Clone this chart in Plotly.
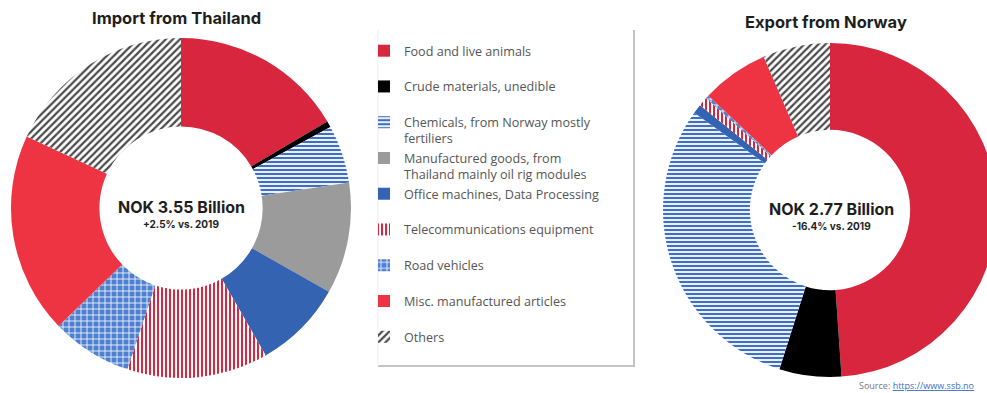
import plotly.graph_objects as go

# Trade categories (SITC groups), listed clockwise from 12 o'clock
categories = [
    "Food and live animals<br>\u00a0",
    "Crude materials, unedible<br>\u00a0",
    "Chemicals, from Norway mostly<br>fertiliers",
    "Manufactured goods, from<br>Thailand mainly oil rig modules",
    "Office machines, Data Processing<br>\u00a0",
    "Telecommunications equipment<br>\u00a0",
    "Road vehicles<br>\u00a0",
    "Misc. manufactured articles<br>\u00a0",
    "Others<br>\u00a0",
]

# Share of total trade value (%)
import_thailand = [16.5, 0.6, 5.5, 10.6, 8.5, 13.4, 7.7, 19.1, 18.1]
export_norway = [48.9, 6.0, 30.0, 0.0, 0.9, 0.9, 0.3, 6.5, 6.5]

totals = ["NOK 3.55 Billion", "NOK 2.77 Billion"]
changes = ["+2.5% vs. 2019", "-16.4% vs. 2019"]
titles = ["Import from Thailand", "Export from Norway"]

# Slice styling: base colour, pattern shape, pattern colours
fill_colors = ["#D7263D", "#000000", "#FFFFFF", "#9B9B9B", "#3463B2",
               "#FFFFFF", "#4F80D0", "#EE3342", "#FFFFFF"]
pattern_shapes = ["", "", "-", "", "", "|", "+", "", "/"]
pattern_fg = ["#D7263D", "#000000", "#3D6FC6", "#9B9B9B", "#3463B2",
              "#D7263D", "#FFFFFF", "#EE3342", "#4A4A4A"]
pattern_bg = fill_colors
pattern_size = [6, 6, 4, 6, 6, 4, 6, 6, 5]
pattern_solid = [0.3, 0.3, 0.55, 0.3, 0.3, 0.5, 0.25, 0.3, 0.45]

W, H = 1000, 393


def px_x(x):
    return x / W


def px_y(y):
    return 1 - y / H


def marker():
    return dict(
        colors=fill_colors,
        line=dict(width=0),
        pattern=dict(shape=pattern_shapes, fgcolor=pattern_fg,
                     bgcolor=pattern_bg, size=pattern_size,
                     solidity=pattern_solid, fillmode="replace"),
    )


fig = go.Figure()
fig.add_trace(go.Pie(
    labels=categories, values=import_thailand, hole=0.48,
    sort=False, direction="clockwise", rotation=0,
    textinfo="none", marker=marker(),
    domain=dict(x=[px_x(11), px_x(351)], y=[px_y(378), px_y(38)]),
))
fig.add_trace(go.Pie(
    labels=categories, values=export_norway, hole=0.48,
    sort=False, direction="clockwise", rotation=0,
    textinfo="none", marker=marker(), showlegend=False,
    domain=dict(x=[px_x(663), px_x(997)], y=[px_y(377), px_y(43)]),
))

title_font = dict(family="Inter", size=16.5, color="#1E1E1E")
ann = []
for cx, ty, t in [(176, 18, titles[0]), (826, 22, titles[1])]:
    ann.append(dict(x=px_x(cx), y=px_y(ty), text=f"<b>{t}</b>",
                    xanchor="center", yanchor="middle",
                    showarrow=False, xref="paper", yref="paper",
                    font=title_font))
for cx, cy, tot, chg in [(181, 207, totals[0], changes[0]),
                         (831, 209, totals[1], changes[1])]:
    ann.append(dict(x=px_x(cx), y=px_y(cy), text=f"<b>{tot}</b>",
                    xanchor="center", yanchor="middle",
                    showarrow=False, xref="paper", yref="paper",
                    font=dict(family="Inter", size=16, color="#1E1E1E")))
    ann.append(dict(x=px_x(cx), y=px_y(cy + 17), text=f"<b>{chg}</b>",
                    xanchor="center", yanchor="middle",
                    showarrow=False, xref="paper", yref="paper",
                    font=dict(family="Inter", size=10, color="#1E1E1E")))
ann.append(dict(
    x=px_x(976), y=px_y(385), xanchor="right", yanchor="middle",
    text="Source: <span style='color:#3A6FC6;text-decoration:underline'>"
         "https://www.ssb.no</span>",
    showarrow=False, xref="paper", yref="paper",
    font=dict(family="Open Sans", size=9, color="#777777")))

# Drop shadow on the legend panel
shapes = [
    dict(type="line", xref="paper", yref="paper",
         x0=px_x(634), x1=px_x(634), y0=px_y(30), y1=px_y(366),
         line=dict(color="#C4C4C4", width=2)),
    dict(type="line", xref="paper", yref="paper",
         x0=px_x(378), x1=px_x(635), y0=px_y(366), y1=px_y(366),
         line=dict(color="#C4C4C4", width=2)),
    dict(type="line", xref="paper", yref="paper",
         x0=px_x(378), x1=px_x(378), y0=px_y(30), y1=px_y(366),
         line=dict(color="#EDEDED", width=1)),
]

fig.update_layout(
    width=W, height=H,
    margin=dict(l=0, r=0, t=0, b=0),
    paper_bgcolor="white", plot_bgcolor="white",
    annotations=ann, shapes=shapes,
    legend=dict(
        x=px_x(364), y=px_y(36), xanchor="left", yanchor="top",
        font=dict(family="Open Sans", size=12.6, color="#555555"),
        valign="top", bgcolor="rgba(0,0,0,0)", borderwidth=0,
        traceorder="normal",
    ),
)

fig.write_html("out.html",
               post_script="document.documentElement.style.overflow='hidden';"
                           "document.body.style.overflow='hidden';")
